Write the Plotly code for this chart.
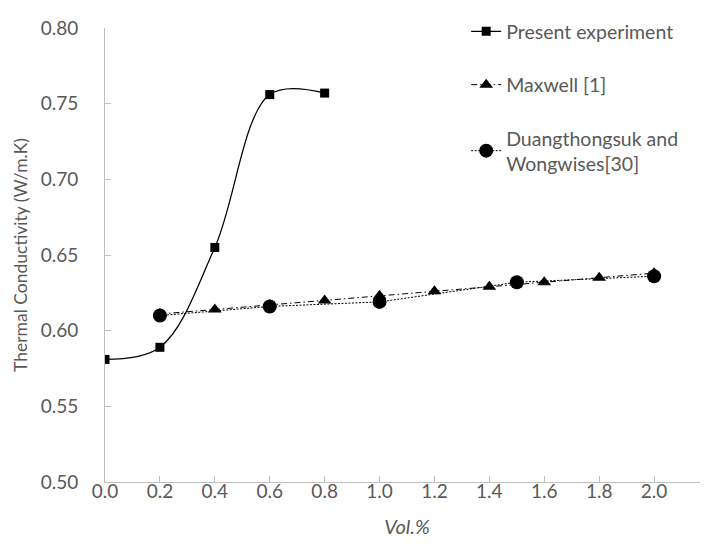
import plotly.graph_objects as go

# Data
present_x = [0.0, 0.2, 0.4, 0.6, 0.8]
present_y = [0.581, 0.589, 0.655, 0.756, 0.757]

maxwell_x = [0.2, 0.4, 0.6, 0.8, 1.0, 1.2, 1.4, 1.6, 1.8, 2.0]
maxwell_y = [0.611, 0.614, 0.617, 0.620, 0.623, 0.626, 0.629, 0.632, 0.635, 0.638]

duang_x = [0.2, 0.6, 1.0, 1.5, 2.0]
duang_y = [0.610, 0.616, 0.619, 0.632, 0.636]

names = ["Present experiment", "Maxwell [1]", "Duangthongsuk and<br>Wongwises[30]"]

FONT = "Lato"
GRAY = "#595959"
AXC = "#bfbfbf"

fig = go.Figure()
fig.add_trace(go.Scatter(
    x=present_x, y=present_y, name=names[0], mode="lines+markers",
    line=dict(color="black", width=1.25, shape="spline", smoothing=1),
    marker=dict(symbol="square", size=9, color="black"),
    legendgroup="a"))
fig.add_trace(go.Scatter(
    x=maxwell_x, y=maxwell_y, name=names[1], mode="lines+markers",
    line=dict(color="black", width=1, dash="6px,3px,1.5px,3px"),
    marker=dict(symbol="triangle-up", size=12, color="black"),
    legendgroup="b"))
fig.add_trace(go.Scatter(
    x=duang_x, y=duang_y, name=names[2], mode="lines+markers",
    line=dict(color="black", width=1, dash="2px,1.5px"),
    marker=dict(symbol="circle", size=14, color="black"),
    legendgroup="c"))

fig.update_layout(
    width=708, height=547,
    margin=dict(l=97, r=7, t=20, b=73, autoexpand=False),
    paper_bgcolor="white", plot_bgcolor="white",
    font=dict(family=FONT, size=18, color=GRAY),
    legend=dict(x=0.598, y=1.035, xanchor="left", yanchor="top",
                traceorder="grouped", tracegroupgap=25,
                font=dict(family=FONT, size=19.5, color=GRAY),
                bgcolor="rgba(0,0,0,0)"),
    xaxis=dict(range=[0, 2.2], dtick=0.2, tick0=0, tickformat=".1f",
               showline=True, linecolor=AXC, linewidth=1,
               ticks="inside", ticklen=6, tickcolor=AXC,
               showgrid=False, zeroline=False, ticklabelstandoff=-8,
               tickfont=dict(family=FONT, size=19, color=GRAY),
               title=dict(text="<i>Vol.%</i>", standoff=19,
                          font=dict(family=FONT, size=20, color=GRAY))),
    yaxis=dict(range=[0.5, 0.8], dtick=0.05, tick0=0.5, tickformat=".2f",
               showline=True, linecolor=AXC, linewidth=1,
               ticks="inside", ticklen=6, tickcolor=AXC,
               showgrid=False, zeroline=False, ticklabelstandoff=22,
               tickfont=dict(family=FONT, size=19, color=GRAY),
               title=dict(text="Thermal Conductivity (W/m.K)", standoff=8,
                          font=dict(family=FONT, size=17.5, color=GRAY))),
)

fig.write_html("out.html")
